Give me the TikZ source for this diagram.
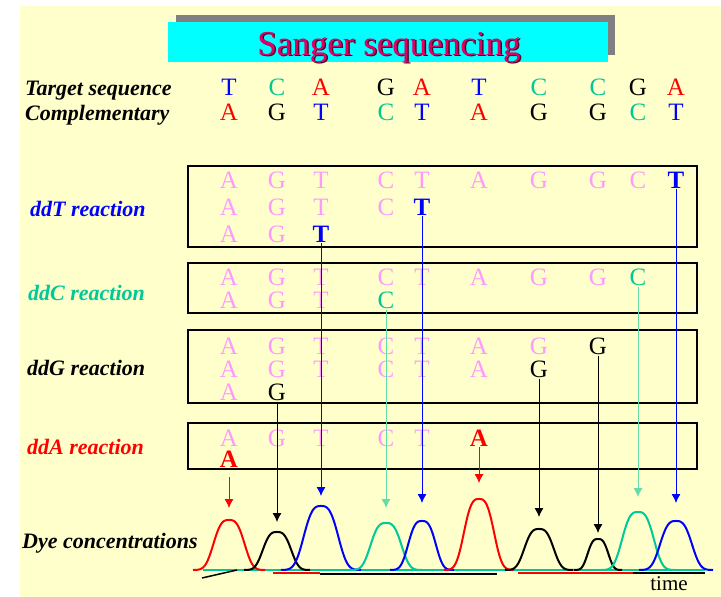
\documentclass[tikz,border=0pt]{standalone}
\usepackage{fontspec}
\setmainfont{Liberation Serif}
\usepackage{xcolor}
\usepackage{tikz}
\usetikzlibrary{arrows.meta}

\definecolor{paper}{RGB}{255,255,204}
\definecolor{titlecyan}{RGB}{0,255,255}
\definecolor{titlegray}{RGB}{128,128,128}
\definecolor{titlered}{RGB}{222,0,102}
\definecolor{baseT}{RGB}{0,0,255}
\definecolor{baseC}{RGB}{0,200,150}
\definecolor{baseG}{RGB}{0,0,0}
\definecolor{baseA}{RGB}{255,0,0}
\definecolor{basepink}{RGB}{255,153,255}
\definecolor{lineC}{RGB}{100,220,170}

% one strand of a reaction: name, row, length, dye style
\newcommand{\dnastrand}[4]{%
  \foreach \nt/\x [count=\i] in {A/229,G/277,T/321,C/386,T/422,A/479,G/539,G/598,C/638,T/676} {
    \ifnum\i<#3 \node (#1-\i) [pinkbase] at (\x,#2) {\nt}; \fi
    \ifnum\i=#3 \node (#1) [#4] at (\x,#2) {\nt}; \fi
  }
}

\begin{document}
\begin{tikzpicture}[x=1pt, y=-1pt,
    letter/.style={inner sep=0pt, font=\fontsize{25}{25}\selectfont},
    pinkbase/.style={letter, text=basepink},
    dyeT/.style={letter, text=baseT, font=\fontsize{25}{25}\selectfont\bfseries},
    dyeC/.style={letter, text=baseC},
    dyeG/.style={letter, text=baseG},
    dyeA/.style={letter, text=baseA, font=\fontsize{25}{25}\selectfont\bfseries},
    rowlabel/.style={anchor=base west, inner sep=0pt, font=\fontsize{22}{22}\selectfont\bfseries\itshape},
    reactbox/.style={draw, line width=2.5pt},
    dyeline/.style={line width=0.9pt, shorten <=1pt, -{Latex[length=9pt,width=9pt]}},
    peakline/.style={line width=2pt}]
    \useasboundingbox (0,0) rectangle (721,597);
    \fill[paper] (20,6) rectangle (721,597);

    % title
    \fill[titlegray] (176,15) rectangle (615,55);
    \fill[titlecyan] (168,22) rectangle (608,62);
    \node (titleshadow) [anchor=base, text=black!65!titlered, font=\fontsize{35}{35}\selectfont] at (390.5,56.5) {Sanger sequencing};
    \node (title) [anchor=base, text=titlered, font=\fontsize{35}{35}\selectfont] at (389,55) {Sanger sequencing};

    % template and its complement
    \node (target) [rowlabel] at (25,95) {Target sequence};
    \node (compl) [rowlabel] at (25,120) {Complementary};
    \foreach \t/\c/\x [count=\i] in {T/A/229,C/G/277,A/T/321,G/C/386,A/T/422,T/A/479,C/G/539,C/G/598,G/C/638,A/T/676} {
        \node (tgt-\i) [letter, text=base\t] at (\x,87) {\t};
        \node (cmp-\i) [letter, text=base\c] at (\x,112) {\c};
    }

    % the four reactions
    \node (ddT) [rowlabel, text=baseT] at (30,216) {ddT reaction};
    \node (ddC) [rowlabel, text=baseC] at (28,300) {ddC reaction};
    \node (ddG) [rowlabel] at (27,375) {ddG reaction};
    \node (ddA) [rowlabel, text=baseA] at (27,454) {ddA reaction};
    \draw[reactbox] (188,166) rectangle (697,247);
    \draw[reactbox] (188,263) rectangle (697,313);
    \draw[reactbox] (188,330) rectangle (697,403);
    \draw[reactbox] (188,423) rectangle (697,469);

    \dnastrand{T1}{180}{10}{dyeT}
    \dnastrand{T2}{207}{5}{dyeT}
    \dnastrand{T3}{234}{3}{dyeT}
    \dnastrand{C1}{277}{9}{dyeC}
    \dnastrand{C2}{300}{4}{dyeC}
    \dnastrand{G1}{346}{8}{dyeG}
    \dnastrand{G2}{369}{7}{dyeG}
    \dnastrand{G3}{392}{2}{dyeG}
    \dnastrand{A1}{438}{6}{dyeA}
    \dnastrand{A2}{459}{1}{dyeA}

    % trace
    \node (dye) [rowlabel] at (22,548) {Dye concentrations};
    \draw[baseC, line width=2pt] (203,570) -- (705,570);
    \draw[baseA, line width=1.5pt] (273,573) -- (320,573);
    \draw[line width=1.5pt] (320,574) -- (497,574);
    \draw[baseA, line width=1.5pt] (518,573) -- (633,573);
    \draw[line width=2.5pt] (633,573) -- (705,573);
    \draw[line width=1.5pt] (202,578) -- (237,570);
    \foreach \c/\h/\w/\col in {229/50/18/baseA,277/38/16.5/baseG,321/64/20/baseT,386/47/18/baseC,422/49/16/baseT,
                               479/71/17.5/baseA,539/41/17/baseG,598/31/12/baseG,638/58/18.5/baseC,676/49/18.5/baseT}
        \draw[peakline, \col] plot[domain=\c-2*\w:\c+2*\w, samples=60, smooth] (\x, {570-\h*exp(-(abs(\x-\c)/\w)^3)});
    \node (time) [font=\fontsize{21}{21}\selectfont] at (669,584) {time};

    \coordinate (tipA2) at (229,508);
    \coordinate (tipG3) at (277,522);
    \coordinate (tipT3) at (321,496);
    \coordinate (tipC2) at (386,508);
    \coordinate (tipT2) at (422,503);
    \coordinate (tipA1) at (479,483);
    \coordinate (tipG2) at (539,517);
    \coordinate (tipG1) at (598,533);
    \coordinate (tipC1) at (638,497);
    \coordinate (tipT1) at (676,503);

    \draw[dyeline, baseT] (T3) -- (tipT3);
    \draw[dyeline, baseT] (T2) -- (tipT2);
    \draw[dyeline, baseT] (T1) -- (tipT1);
    \draw[dyeline, lineC] (C2) -- (tipC2);
    \draw[dyeline, lineC] (C1) -- (tipC1);
    \draw[dyeline, baseG] (G3) -- (tipG3);
    \draw[dyeline, baseG] (G2) -- (tipG2);
    \draw[dyeline, baseG] (G1) -- (tipG1);
    \draw[dyeline, baseA] (A1) -- (tipA1);
    \draw[dyeline, baseA, shorten <=10pt] (A2) -- (tipA2);
\end{tikzpicture}
\end{document}
